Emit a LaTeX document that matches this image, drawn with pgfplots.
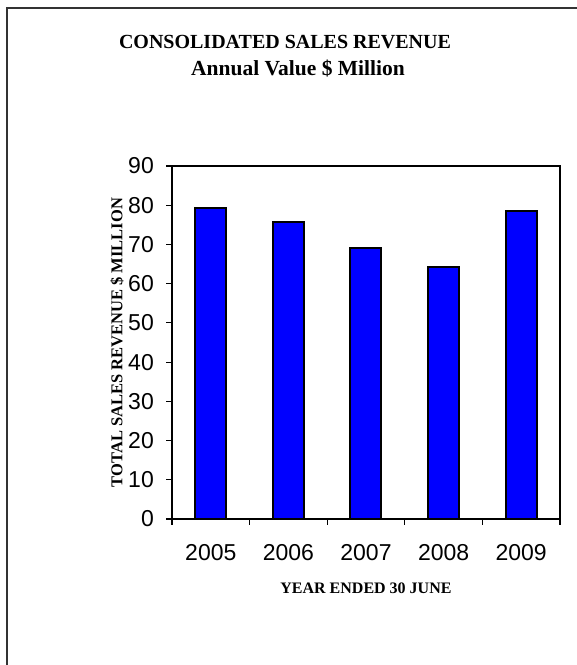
\documentclass[border=0pt]{standalone}
\usepackage{pgfplots}
\pgfplotsset{compat=1.18}
\usepackage{fontspec}
\setmainfont{Liberation Serif}
\newfontfamily\arial{Liberation Sans}
\definecolor{barblue}{RGB}{0,0,255}
\begin{document}
\begin{tikzpicture}
\path[use as bounding box] (0pt,0pt) rectangle (577pt,665pt);
\draw[line width=1.5pt, black!80] (7pt,0pt) -- (7pt,657pt) -- (577pt,657pt);
\node[font=\bfseries\fontsize{20}{24}\selectfont] at (285pt,623pt) {CONSOLIDATED SALES REVENUE};
\node[font=\bfseries\fontsize{21.5}{24}\selectfont] at (298pt,596pt) {Annual Value \$ Million};
\begin{axis}[at={(172pt,146pt)}, anchor=origin, scale only axis,
  width=388pt, height=353pt,
  xmin=0, xmax=5, ymin=0, ymax=90,
  ytick={0,10,...,90},
  xtick={0,1,2,3,4,5},
  x tick label as interval,
  xticklabels={2005,2006,2007,2008,2009},
  tick pos=left,
  axis line style={line width=1.6pt},
  tick style={line width=1.2pt, black},
  tick align=outside,
  major tick length=6pt,
  /pgf/number format/assume math mode=true,
  ticklabel style={font=\arial\fontsize{23}{23}\selectfont},
  yticklabel style={inner sep=0pt, anchor=east, xshift=-12pt},
  xticklabel style={inner sep=0pt, anchor=north, yshift=-19pt},
  xlabel={YEAR ENDED 30 JUNE},
  ylabel={TOTAL SALES REVENUE \$ MILLION},
  xlabel style={font=\bfseries\fontsize{16}{18}\selectfont, at={(axis description cs:0.5,-0.1955)}, anchor=center},
  ylabel style={font=\bfseries\fontsize{16.5}{18}\selectfont, at={(axis description cs:-0.142,0.5)}, anchor=center},
]
\addplot[ybar, bar width=31pt, fill=barblue, draw=black, line width=2pt]
  coordinates {(0.5,79.4) (1.5,75.7) (2.5,69.1) (3.5,64.3) (4.5,78.6)};
\end{axis}
\end{tikzpicture}
\end{document}
